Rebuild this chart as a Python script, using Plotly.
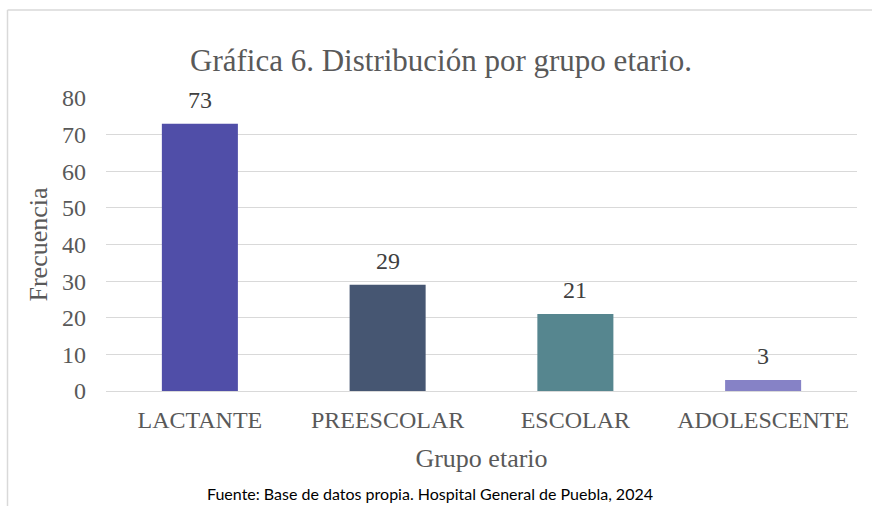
import plotly.graph_objects as go

categories = ["LACTANTE", "PREESCOLAR", "ESCOLAR", "ADOLESCENTE"]
values = [73, 29, 21, 3]
bar_colors = ["#504EA8", "#465672", "#56868F", "#8682C6"]

W, H = 872, 506
L, R, T, B = 106, 15, 98, 115
pw = W - L - R
ph = H - T - B

serif = "Liberation Serif, Times New Roman, serif"
grey = "#595959"

fig = go.Figure()
fig.add_trace(go.Bar(x=categories, y=values, marker=dict(color=bar_colors, line=dict(width=0)),
                     hoverinfo="x+y"))

# data labels above bars
for c, v in zip(categories, values):
    fig.add_annotation(x=c, y=v, text=str(v), showarrow=False, yanchor="middle", yshift=24,
                       font=dict(family=serif, size=24, color="#404040"))

# chart border (left and top edges visible)
def px_x(p):
    return (p - L) / pw

def px_y(p):
    return (H - B - p) / ph

fig.add_shape(type="line", xref="paper", yref="paper", x0=px_x(7.5), x1=px_x(7.5),
              y0=px_y(10), y1=px_y(520), line=dict(color="#D9D9D9", width=1.5))
fig.add_shape(type="line", xref="paper", yref="paper", x0=px_x(7.5), x1=px_x(880),
              y0=px_y(10), y1=px_y(10), line=dict(color="#D9D9D9", width=1.5))

fig.add_annotation(xref="paper", yref="paper", x=px_x(430), y=px_y(493),
                   text="Fuente: Base de datos propia. Hospital General de Puebla, 2024",
                   showarrow=False, xanchor="center", yanchor="middle",
                   font=dict(family="Lato, Liberation Sans, sans-serif", size=16, color="#000000"))

fig.update_layout(
    width=W, height=H,
    margin=dict(l=L, r=R, t=T, b=B),
    paper_bgcolor="white", plot_bgcolor="white",
    bargap=0.595,
    showlegend=False,
    title=dict(text="Gráfica 6. Distribución por grupo etario.", x=441 / W, xanchor="center",
               y=1 - 60 / H, yanchor="middle",
               font=dict(family=serif, size=31, color=grey)),
    xaxis=dict(showgrid=False, showline=False, ticks="", tickfont=dict(family=serif, size=24, color=grey),
               ticklabelstandoff=12,
               title=dict(text="Grupo etario", font=dict(family=serif, size=26, color=grey), standoff=16)),
    yaxis=dict(range=[0, 80], dtick=10, showgrid=True, gridcolor="#D9D9D9", gridwidth=1.3,
               zeroline=True, zerolinecolor="#D9D9D9", zerolinewidth=1.3, showline=False, ticks="",
               tickfont=dict(family=serif, size=24, color=grey), ticklabelstandoff=19,
               title=dict(text="Frecuencia", font=dict(family=serif, size=26, color=grey), standoff=6)),
)

fig.write_html("out.html", config={"displayModeBar": False},
               post_script="document.body.style.margin='0';")
